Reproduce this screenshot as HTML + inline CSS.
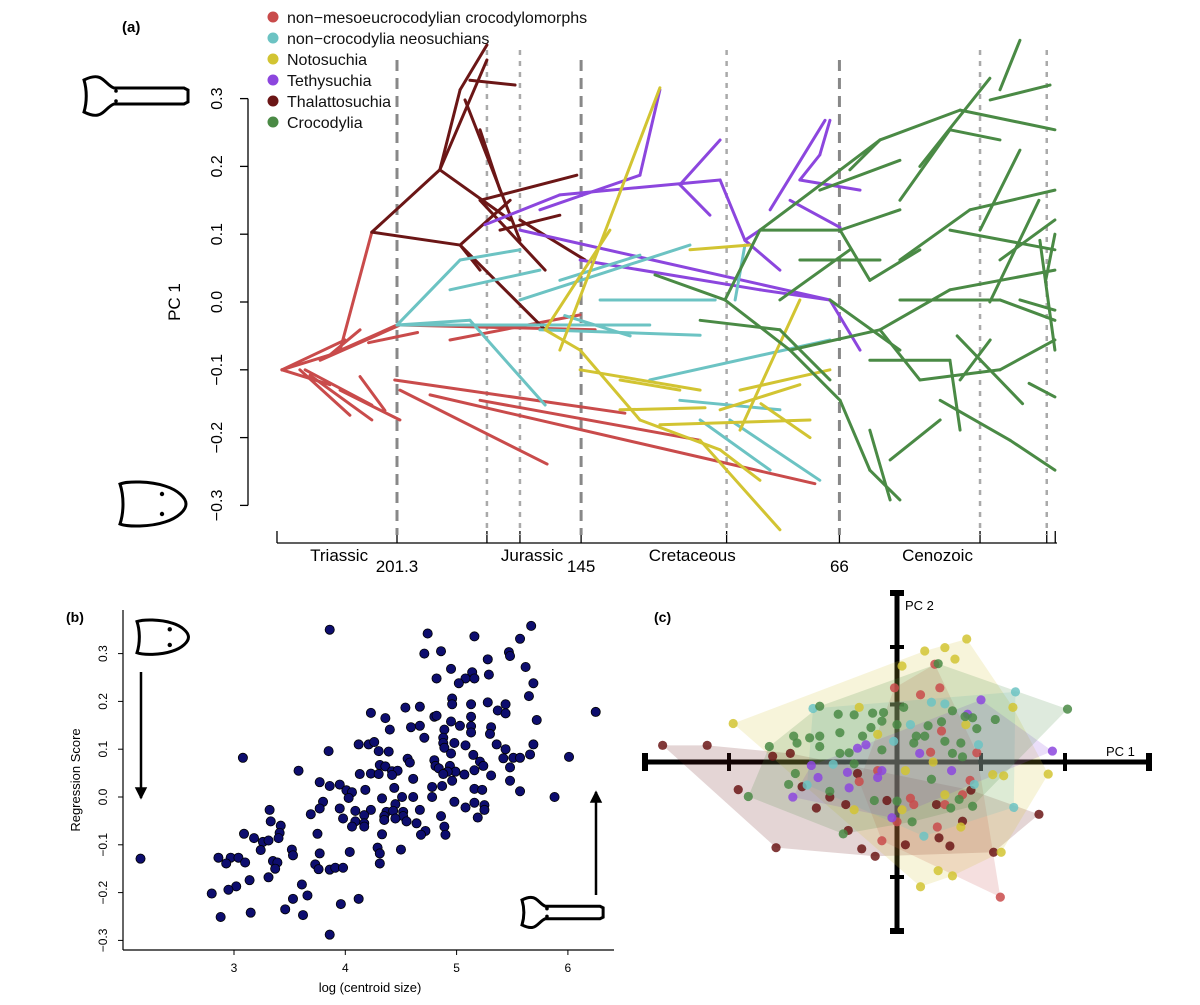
<!DOCTYPE html>
<html><head><meta charset="utf-8">
<style>
body{margin:0;background:#fff;}
svg{display:block;font-family:"Liberation Sans",sans-serif;}
</style></head>
<body>
<svg id="fig" width="1200" height="1005" viewBox="0 0 1200 1005">
<g id="pa"></g>
<g id="pb"></g>
<g id="pc"></g>
</svg>
<script>
// ---------- Panel (a) data ----------
const aTicks = [-0.3,-0.2,-0.1,0.0,0.1,0.2,0.3];
const aTickLabels = ["\u22120.3","\u22120.2","\u22120.1","0.0","0.1","0.2","0.3"];
const boundaryAges = [201.3,145,66];
const boundaryLabels = ["201.3","145","66"];
const minorAges = [173.8,163.7,100.5,23,2.6];
const periodNames = ["Triassic","Jurassic","Cretaceous","Cenozoic"];
const periodMidAges = [219,160,111,36];
const cladeNames = ["non\u2212mesoeucrocodylian crocodylomorphs","non\u2212crocodylia neosuchians","Notosuchia","Tethysuchia","Thalattosuchia","Crocodylia"];
const cladeColors = ["#c94b4b","#6cc3c3","#d2c432","#8c46de","#6b1616","#4a8a45"];
// branches: [age0, pc0, age1, pc1]
const branchesRed = [
[236.5,-.100,221.8,-.078],[236.5,-.100,221.8,-.122],[236.5,-.100,217.2,-.056],[231,-.100,215.7,-.167],
[229.4,-.100,209,-.152],[227.9,-.108,209,-.174],[224.8,-.086,200.4,-.034],[221.8,-.078,212.6,-.041],
[218.7,-.130,200.4,-.174],[218.7,-.071,209,.103],[221.8,-.078,201.3,-.034],[200.4,-.034,140.7,-.041],
[185.1,-.056,145.3,-.019],[202,-.115,131.6,-.164],[200.4,-.130,155.4,-.239],[191.2,-.137,73.5,-.268],
[175.9,-.145,108.6,-.204],[212.6,-.110,205,-.160],[210,-.060,195,-.045]];
const branchesThal = [
[209,.103,188.2,.195],[188.2,.195,182,.313],[188.2,.195,173.8,.357],[182,.313,173.8,.379],
[209,.103,182,.084],[182,.084,166.7,.150],[182,.084,175.9,.047],[188.2,.195,166.7,.121],
[175.9,.150,146.3,.187],[175.9,.150,156,.047],[169.8,.106,151.5,.128],[182,.084,156,-.041],
[179,.327,165.2,.320],[180.5,.298,163.7,.091],[175.9,.254,169.8,.165],[163.7,.121,143.8,.062]];
const branchesTeth = [
[174.4,.114,151.5,.158],[157.6,.136,127,.187],[151.5,.158,102.5,.180],[127,.187,120.9,.313],
[114.8,.173,102.5,.239],[114.8,.173,105.6,.128],[163.7,.106,68.9,.003],[145.3,.062,90.3,.018],
[90.3,.018,68.9,.003],[87.2,.136,70.4,.268],[78.1,.180,72,.217],[78.1,.180,59.7,.165],
[72,.217,68.9,.268],[102.5,.180,94.9,.091],[94.9,.091,90.3,.106],[94.9,.091,84.2,.047],
[81.1,.150,65.8,.110],[68.9,.003,59.7,-.071]];
const branchesNoto = [
[156,-.041,145.3,-.071],[151.5,-.071,120.9,.316],[156,-.041,136.2,.106],[145.3,-.071,127,-.174],
[145.3,-.100,108.6,-.130],[133.1,-.159,107.1,-.156],[127,-.174,102.5,-.218],[120.9,-.181,75,-.174],
[108.6,-.204,84.2,-.336],[102.5,-.218,90.3,-.263],[102.5,-.159,78.1,-.122],[96.4,-.130,68.9,-.100],
[96.4,-.189,78.1,.003],[111.7,.077,93.3,.084],[133.1,-.115,114.8,-.130],[90,-.150,75,-.200]];
const branchesNeo = [
[201.3,-.034,182,.062],[201.3,-.034,179,-.027],[201.3,-.034,124,-.034],[182,.062,163.7,.077],
[179,-.027,156,-.152],[185.1,.018,157.6,.047],[163.7,.003,111.7,.084],[151.5,.032,127,.069],
[139.2,.003,104,.003],[157.6,-.041,108.6,-.049],[124,-.115,68.9,-.056],[114.8,-.145,84.2,-.159],
[108.6,-.174,87.2,-.248],[99.5,-.174,72,-.263],[94.9,.084,97.9,.003],[150,-.020,130,-.050]];
const branchesCroc = [
[122.4,.040,101,.003],[101,.003,90.3,.106],[90.3,.106,78.1,.150],[78.1,.150,53.6,.239],
[53.6,.239,29.1,.283],[29.1,.283,0.1,.254],[16.9,.313,10.8,.386],[19.9,.298,1.6,.320],
[101,.003,81.1,-.071],[81.1,-.071,65.8,-.145],[65.8,-.145,56.7,-.248],[56.7,-.248,47.5,-.292],
[90.3,.106,65.8,.106],[65.8,.106,47.5,.136],[65.8,.106,56.7,.032],[78.1,.062,53.6,.062],
[56.7,.032,41.4,.077],[47.5,.062,26.1,.136],[26.1,.136,0.1,.165],[32.2,.106,0.1,.077],
[23,.106,10.8,.224],[81.1,-.071,53.6,-.041],[53.6,-.041,32.2,.018],[32.2,.018,0.1,.047],
[47.5,.003,16.9,.003],[16.9,.003,0.1,-.027],[53.6,-.041,41.4,-.115],[41.4,-.115,16.9,-.100],
[16.9,-.100,0.1,-.056],[35.2,-.145,13.8,-.204],[13.8,-.204,0.1,-.248],[29.1,-.115,19.9,-.056],
[68.9,.003,47.5,-.071],[56.7,-.086,32.2,-.086],[32.2,-.086,29.1,-.189],[10.8,.003,0.1,-.012],
[16.9,.062,0.1,.121],[4.7,.091,0.1,-.071],[72,.165,47.5,.209],[62.8,.195,53.6,.239],
[84.2,.003,62.8,.077],[47.5,.150,32.2,.254],[32.2,.254,16.9,.239],[108.6,-.027,84.2,-.041],
[84.2,-.041,68.9,-.115],[56.7,-.189,50.5,-.292],[50.5,-.233,35.2,-.174],[41.4,.200,20,.330],
[20,.000,5,.150],[30,-.050,10,-.150],[3,.030,0.1,.100],[8,-.120,0.1,-.140]];

// ---------- Panel (b) data ----------
const bXTicks = [3,4,5,6];
const bYTicks = [-0.3,-0.2,-0.1,0.0,0.1,0.2,0.3];
const bYTickLabels = ["\u22120.3","\u22120.2","\u22120.1","0.0","0.1","0.2","0.3"];
const logSize = [2.16,3.86,3.08,5.67,4.74,5.16,4.71,4.86,5.57,5.47,5.48,5.28,5.62,4.95,5.14,5.08,5.16,4.82,5.02,5.29,5.69,5.65,4.96,4.96,5.13,5.28,5.44,5.37,5.44,6.25,5.72,4.54,4.67,4.23,4.36,4.80,4.82,5.13,4.95,5.03,5.13,5.31,4.59,4.67,4.40,4.89,5.13,5.30,4.71,4.88,4.88,4.98,4.12,4.21,4.26,5.69,5.36,5.08,4.89,3.85,4.30,4.39,4.95,5.15,5.44,5.51,5.57,5.66,6.01,5.42,4.56,4.58,4.80,5.21,5.24,4.31,4.36,4.81,4.94,5.48,4.84,5.16,4.99,4.92,3.58,4.13,4.23,4.30,4.42,4.47,4.42,4.88,5.07,5.31,4.61,4.96,5.48,3.77,3.86,3.95,4.78,4.87,4.44,4.18,5.16,5.23,5.57,4.01,4.06,4.51,4.61,4.78,5.88,4.03,4.33,3.80,4.98,5.16,5.25,5.08,4.45,3.32,3.77,3.95,4.09,4.23,4.37,4.43,4.52,4.67,5.25,3.69,4.35,4.17,4.52,4.86,5.19,3.98,4.45,4.35,4.55,3.33,4.64,4.09,4.17,3.42,4.06,4.17,4.89,4.72,3.09,3.41,3.75,4.33,4.68,4.90,3.18,3.40,3.26,3.31,4.29,3.24,3.52,4.50,4.04,3.53,3.77,4.31,2.86,2.97,3.04,2.93,3.10,3.35,3.39,4.31,3.73,3.76,3.37,3.86,3.91,3.98,3.31,3.14,3.61,3.02,2.95,2.80,3.66,3.53,4.12,3.96,3.46,3.15,3.62,2.88,3.86];
const regScore = [-0.129,0.35,0.082,0.358,0.342,0.336,0.30,0.305,0.331,0.303,0.295,0.288,0.272,0.268,0.261,0.248,0.248,0.248,0.238,0.256,0.238,0.211,0.206,0.194,0.194,0.198,0.194,0.181,0.175,0.178,0.161,0.187,0.189,0.176,0.165,0.168,0.170,0.168,0.158,0.149,0.148,0.146,0.146,0.149,0.141,0.141,0.135,0.132,0.124,0.124,0.113,0.113,0.110,0.110,0.115,0.110,0.110,0.108,0.103,0.096,0.096,0.095,0.091,0.088,0.100,0.082,0.082,0.089,0.084,0.081,0.080,0.072,0.077,0.074,0.065,0.067,0.064,0.065,0.065,0.062,0.060,0.056,0.053,0.053,0.055,0.048,0.049,0.048,0.054,0.055,0.046,0.048,0.047,0.045,0.038,0.034,0.034,0.031,0.023,0.026,0.021,0.023,0.019,0.015,0.017,0.015,0.012,0.014,0.010,0.0,0.0,0.0,0.0,-0.002,-0.003,-0.010,-0.010,-0.012,-0.017,-0.022,-0.015,-0.027,-0.024,-0.024,-0.029,-0.027,-0.031,-0.029,-0.031,-0.027,-0.027,-0.036,-0.040,-0.038,-0.040,-0.040,-0.043,-0.045,-0.045,-0.048,-0.051,-0.051,-0.055,-0.051,-0.055,-0.060,-0.062,-0.062,-0.062,-0.071,-0.077,-0.075,-0.077,-0.078,-0.079,-0.079,-0.086,-0.086,-0.094,-0.091,-0.106,-0.111,-0.110,-0.110,-0.115,-0.122,-0.118,-0.118,-0.127,-0.127,-0.127,-0.139,-0.137,-0.134,-0.137,-0.139,-0.141,-0.151,-0.150,-0.152,-0.148,-0.148,-0.168,-0.174,-0.183,-0.187,-0.194,-0.202,-0.206,-0.213,-0.213,-0.224,-0.235,-0.242,-0.247,-0.251,-0.288];

// ---------- Panel (c) data (PC1, PC2) ----------
const pcThal1 = [-0.279,-0.226,-0.148,-0.127,-0.189,-0.113,-0.096,-0.061,-0.058,-0.144,-0.042,-0.026,0.010,0.050,0.063,0.115,0.169,0.078,0.088,-0.047,-0.080,-0.012,0.047];
const pcThal2 = [0.029,0.029,0.010,0.015,-0.048,-0.043,-0.080,-0.074,-0.119,-0.149,-0.151,-0.164,-0.144,-0.132,-0.146,-0.157,-0.091,-0.103,-0.049,-0.020,-0.061,-0.067,-0.074];
const pcRed1 = [-0.003,0.028,0.051,0.045,0.053,0.040,0.095,0.123,-0.018,0.048,0.020,-0.045,-0.023,0.087,0.057,0.0,0.016,0.078];
const pcRed2 = [0.129,0.117,0.129,0.170,0.054,0.017,0.016,-0.235,-0.137,-0.113,-0.074,-0.034,-0.015,-0.032,-0.074,-0.104,-0.063,-0.057];
const pcNoto1 = [0.083,0.057,0.069,0.033,0.006,-0.195,-0.045,0.138,0.180,0.127,0.114,0.124,0.028,0.049,0.066,0.076,-0.051,-0.023,0.010,0.006,0.043,0.057,0.082];
const pcNoto2 = [0.214,0.199,0.179,0.193,0.167,0.067,0.095,0.095,-0.021,-0.024,-0.022,-0.157,-0.217,-0.189,-0.198,-0.113,-0.083,0.048,-0.015,-0.083,0.0,-0.057,0.065];
const pcTeth1 = [0.100,0.185,-0.124,-0.102,-0.094,-0.059,-0.057,-0.047,-0.023,-0.018,-0.006,0.027,0.065,0.084,-0.037];
const pcTeth2 = [0.108,0.019,-0.061,-0.006,-0.027,-0.018,-0.045,0.024,-0.027,-0.015,-0.097,0.015,-0.015,0.083,0.030];
const pcNeo1 = [0.141,-0.100,0.097,0.139,0.032,-0.107,-0.076,-0.004,0.016,0.041,0.092,0.057];
const pcNeo2 = [0.122,0.093,0.030,-0.079,-0.129,-0.040,-0.004,0.036,0.065,0.104,-0.039,0.101];
const pcCroc1 = [0.203,0.049,-0.092,-0.152,-0.177,-0.129,-0.121,-0.064,0.018,0.117,0.081,0.090,0.095,0.066,0.053,0.076,0.066,0.078,0.090,0.074,0.064,-0.070,-0.051,-0.029,-0.016,0.008,-0.123,-0.119,-0.104,-0.092,-0.092,-0.068,-0.041,-0.031,-0.018,0.0,-0.068,-0.057,-0.080,-0.027,0.0,0.023,0.033,0.037,0.020,0.041,-0.018,-0.051,0.057];
const pcCroc2 = [0.092,0.171,0.097,0.027,-0.060,-0.039,-0.020,-0.125,-0.104,0.074,0.079,0.077,0.058,0.089,0.070,0.033,0.015,0.009,-0.077,-0.065,-0.080,0.083,0.082,0.085,0.086,0.095,0.045,0.033,0.042,0.045,0.027,0.051,0.045,0.060,0.071,0.065,0.015,0.016,-0.051,-0.067,-0.068,0.045,0.045,0.063,0.033,-0.030,0.021,-0.003,0.036];

const NS="http://www.w3.org/2000/svg";
function mk(parent,tag,attrs,text){const e=document.createElementNS(NS,tag);for(const k in attrs)e.setAttribute(k,attrs[k]);if(text!==undefined)e.textContent=text;parent.appendChild(e);return e;}

// ===== Panel A =====
const pa=document.getElementById('pa');
const ax=a=>397+(201.3-a)*3.27;
const ay=v=>302-v*678;
let t=mk(pa,'text',{x:122,y:32,'font-size':15,'font-weight':'bold'},'(a)');


// legend
cladeNames.forEach((n,i)=>{
  const g=mk(pa,'g',{});
  
  
  mk(g,'circle',{cx:273,cy:17+i*21,r:5.5,fill:cladeColors[i]});
  mk(g,'text',{x:287,y:23+i*21,'font-size':16,fill:'#111'},n);
});
// y axis
let yax=mk(pa,'line',{x1:248,y1:ay(0.3),x2:248,y2:ay(-0.3),stroke:'#000','stroke-width':1.3});


aTicks.forEach((v,i)=>{
  mk(pa,'line',{x1:240,y1:ay(v),x2:248,y2:ay(v),stroke:'#000','stroke-width':1.3});
  const tx=mk(pa,'text',{x:222,y:ay(v),'font-size':16,'text-anchor':'middle',transform:`rotate(-90 222 ${ay(v)})`},aTickLabels[i]);
  
  
});
t=mk(pa,'text',{x:180,y:302,'font-size':17,'text-anchor':'middle',transform:'rotate(-90 180 302)'},'PC 1');


// time axis
const xa=mk(pa,'line',{x1:277,y1:543,x2:1057,y2:543,stroke:'#000','stroke-width':1.3});


[238,...boundaryAges,...minorAges,0].forEach(a=>{mk(pa,'line',{x1:ax(a),y1:531,x2:ax(a),y2:543,stroke:'#000','stroke-width':1.3});});
boundaryAges.forEach((a,i)=>{
  const l=mk(pa,'line',{x1:ax(a),y1:60,x2:ax(a),y2:535,stroke:'#888','stroke-width':3,'stroke-dasharray':'11,7'});
  
  
  mk(pa,'text',{x:ax(a),y:572,'font-size':17,'text-anchor':'middle'},boundaryLabels[i]);
});
minorAges.forEach(a=>{
  const l=mk(pa,'line',{x1:ax(a),y1:50,x2:ax(a),y2:535,stroke:'#aaa','stroke-width':2.5,'stroke-dasharray':'5,6'});
  
  
});
periodNames.forEach((n,i)=>{
  const tx=mk(pa,'text',{x:ax(periodMidAges[i]),y:561,'font-size':17,'text-anchor':'middle'},n);
  
  
});
const groups=[[branchesRed,0],[branchesThal,4],[branchesTeth,3],[branchesNeo,1],[branchesNoto,2],[branchesCroc,5]];
groups.forEach(([br,ci])=>{
  br.forEach(b=>{
    const l=mk(pa,'line',{x1:ax(b[0]),y1:ay(b[1]),x2:ax(b[2]),y2:ay(b[3]),stroke:cladeColors[ci],'stroke-width':3,'stroke-linecap':'round'});
    
    
  });
});
// skull icons
function longSkull(p,x,y,s,name){
  const d=`M0,0 C4,-2 10,-4 14,-3 C20,-2 24,6 30,8 L${100},8 L${104},10 L${104},22 L${100},24 L30,24 C24,26 20,34 14,35 C10,36 4,34 0,32 C3,22 3,10 0,0 Z`;
  const e=mk(p,'path',{d,transform:`translate(${x},${y}) scale(${s})`,fill:'none',stroke:'#000','stroke-width':3/s});
  
  
  mk(p,'circle',{cx:x+32*s,cy:y+11*s,r:1.8,fill:'#000'});
  mk(p,'circle',{cx:x+32*s,cy:y+21*s,r:1.8,fill:'#000'});
}
function shortSkull(p,x,y,s,name){
  const d=`M0,2 C8,-1 30,-1 45,4 C58,8 66,16 66,22 C66,28 58,36 45,40 C30,45 8,45 0,42 C4,30 4,14 0,2 Z`;
  const e=mk(p,'path',{d,transform:`translate(${x},${y}) scale(${s})`,fill:'none',stroke:'#000','stroke-width':3/s});
  
  
  mk(p,'circle',{cx:x+42*s,cy:y+12*s,r:2.2,fill:'#000'});
  mk(p,'circle',{cx:x+42*s,cy:y+32*s,r:2.2,fill:'#000'});
}
longSkull(pa,84,80,1.0,'a-long-snout-skull');
shortSkull(pa,120,482,1.0,'a-short-snout-skull');

// ===== Panel B =====
const pb=document.getElementById('pb');
const bx=v=>234+(v-3)*111.3;
const by=v=>797-v*478;
t=mk(pb,'text',{x:66,y:622,'font-size':14,'font-weight':'bold'},'(b)');


let l=mk(pb,'line',{x1:123,y1:610,x2:123,y2:950,stroke:'#000','stroke-width':1.2});


l=mk(pb,'line',{x1:123,y1:950,x2:614,y2:950,stroke:'#000','stroke-width':1.2});


bYTicks.forEach((v,i)=>{
  mk(pb,'line',{x1:118,y1:by(v),x2:123,y2:by(v),stroke:'#000'});
  mk(pb,'text',{x:107,y:by(v),'font-size':12,'text-anchor':'middle',transform:`rotate(-90 107 ${by(v)})`},bYTickLabels[i]);
});
bXTicks.forEach(v=>{
  mk(pb,'line',{x1:bx(v),y1:950,x2:bx(v),y2:955,stroke:'#000'});
  mk(pb,'text',{x:bx(v),y:972,'font-size':12,'text-anchor':'middle'},String(v));
});
t=mk(pb,'text',{x:370,y:992,'font-size':13,'text-anchor':'middle'},'log (centroid size)');


t=mk(pb,'text',{x:80,y:780,'font-size':13,'text-anchor':'middle',transform:'rotate(-90 80 780)'},'Regression Score');


logSize.forEach((v,i)=>{
  const c=mk(pb,'circle',{cx:bx(v),cy:by(regScore[i]),r:4.6,fill:'#0d0d6e',stroke:'#000','stroke-width':0.8});
  
  
});
shortSkull(pb,137,620,0.78,'b-short-snout-skull');
longSkull(pb,522,900,0.78,'b-long-snout-skull');
function arrow(p,x,y1,y2,name){
  const g=mk(p,'g',{});
  
  
  mk(g,'line',{x1:x,y1:y1,x2:x,y2:y2,stroke:'#000','stroke-width':2.5});
  const dir=y2>y1?1:-1;
  mk(g,'path',{d:`M${x-5},${y2-dir*10} L${x},${y2} L${x+5},${y2-dir*10} Z`,fill:'#000',stroke:'#000','stroke-width':1.5});
}
arrow(pb,141,672,798,'down-arrow');
arrow(pb,596,895,792,'up-arrow');

// ===== Panel C =====
const pcg=document.getElementById('pc');
const cx0=897, cy0=762;
const cx=v=>cx0+v*840;
const cy=v=>cy0-v*575;
t=mk(pcg,'text',{x:654,y:622,'font-size':14,'font-weight':'bold'},'(c)');


l=mk(pcg,'line',{x1:645,y1:cy0,x2:1148,y2:cy0,stroke:'#000','stroke-width':5});


l=mk(pcg,'line',{x1:cx0,y1:593,x2:cx0,y2:931,stroke:'#000','stroke-width':5});


[-0.3,-0.2,0.1,0.2,0.3].forEach(v=>{const w=Math.abs(v)==0.3?6:4;mk(pcg,'rect',{x:cx(v)-w/2,y:cy0-9,width:w,height:18,fill:'#000'});});
[0.3,0.2,0.1,-0.2,-0.3].forEach(v=>{const w=Math.abs(v)==0.3?6:4;mk(pcg,'rect',{x:cx0-7,y:Math.min(931,Math.max(593,cy(v)))-w/2,width:14,height:w,fill:'#000'});});
t=mk(pcg,'text',{x:905,y:610,'font-size':13},'PC 2');


t=mk(pcg,'text',{x:1106,y:756,'font-size':13},'PC 1');


function hull(pts){
  pts=pts.slice().sort((a,b)=>a[0]-b[0]||a[1]-b[1]);
  const cr=(o,a,b)=>(a[0]-o[0])*(b[1]-o[1])-(a[1]-o[1])*(b[0]-o[0]);
  const lo=[],up=[];
  for(const p of pts){while(lo.length>=2&&cr(lo[lo.length-2],lo[lo.length-1],p)<=0)lo.pop();lo.push(p);}
  for(const p of pts.slice().reverse()){while(up.length>=2&&cr(up[up.length-2],up[up.length-1],p)<=0)up.pop();up.push(p);}
  return lo.slice(0,-1).concat(up.slice(0,-1));
}
const cGroups=[[pcThal1,pcThal2,4,'thalattosuchia'],[pcRed1,pcRed2,0,'non-mesoeucrocodylian'],[pcNoto1,pcNoto2,2,'notosuchia'],[pcNeo1,pcNeo2,1,'neosuchian'],[pcTeth1,pcTeth2,3,'tethysuchia'],[pcCroc1,pcCroc2,5,'crocodylia']];
cGroups.forEach(([a,b,ci,nm])=>{
  const pts=a.map((v,i)=>[cx(v),cy(b[i])]);
  const h=hull(pts);
  const pg=mk(pcg,'polygon',{points:h.map(p=>p.join(',')).join(' '),fill:cladeColors[ci],'fill-opacity':0.18,stroke:'none'});
  
  
});
cGroups.forEach(([a,b,ci,nm])=>{
  a.forEach((v,i)=>{
    const c=mk(pcg,'circle',{cx:cx(v),cy:cy(b[i]),r:4.6,fill:cladeColors[ci],'fill-opacity':0.85});
    
    
  });
});
</script>
</body></html>
